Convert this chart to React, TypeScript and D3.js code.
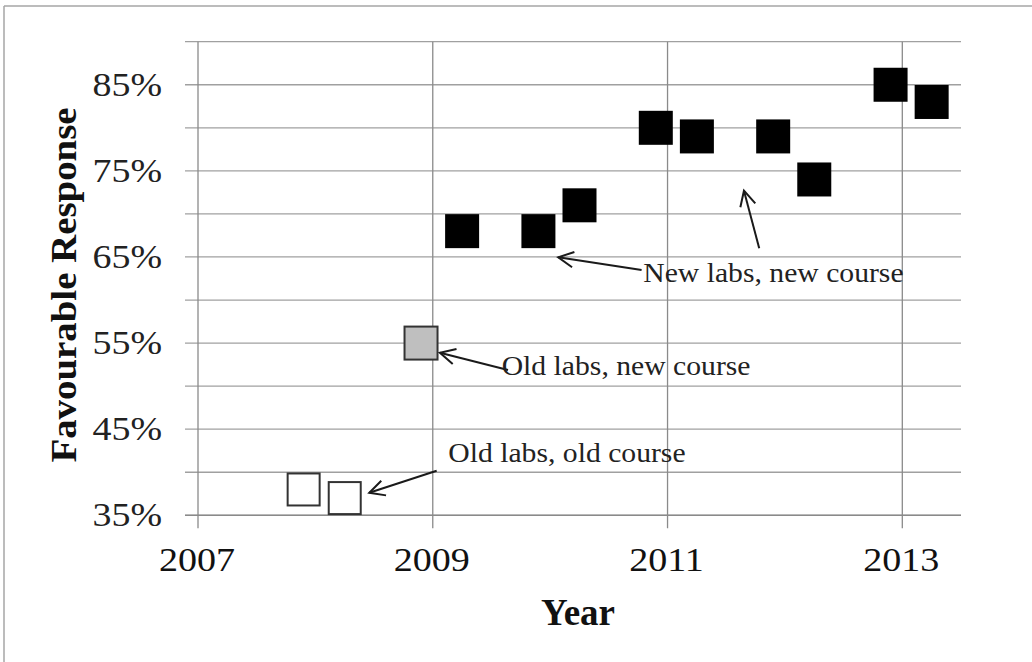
import React from "react";
import * as d3 from "d3";

// ---- data ----
const newLabsNewCourseX = [2009.25, 2009.9, 2010.25, 2010.9, 2011.25, 2011.9, 2012.25, 2012.9, 2013.25];
const newLabsNewCourseY = [68, 68, 71, 80, 79, 79, 74, 85, 83];
const oldLabsNewCourseX = [2008.9];
const oldLabsNewCourseY = [55];
const oldLabsOldCourseX = [2007.9, 2008.25];
const oldLabsOldCourseY = [38, 37];

const xDomain = [2007, 2013.5];
const yDomain = [35, 90];
const xTickValues = [2007, 2009, 2011, 2013];
const yGridValues = [35, 40, 45, 50, 55, 60, 65, 70, 75, 80, 85, 90];
const yLabelValues = [35, 45, 55, 65, 75, 85];

const annotationTexts = ["Old labs, old course", "Old labs, new course", "New labs, new course"];
const annotationX = [2009.132, 2009.587, 2010.793];
const annotationY = [41.22, 51.29, 62.13];

const arrowFromX = [2009.033, 2009.641, 2010.779, 2011.781];
const arrowFromY = [40.18, 51.87, 63.49, 66.0];
const arrowToX = [2008.459, 2009.061, 2010.069, 2011.651];
const arrowToY = [37.62, 53.88, 64.96, 72.7];

const W = 1032;
const H = 662;
const SERIF = "'Liberation Serif', 'Times New Roman', serif";
const SX = 1.12;

export default function App() {
  const x = d3.scaleLinear().domain(xDomain).range([198, 961]);
  const y = d3.scaleLinear().domain(yDomain).range([515.3, 41.7]);
  const left = x.range()[0];
  const right = x.range()[1];
  const top = y.range()[1];
  const bottom = y.range()[0];

  const newPts = d3.zip(newLabsNewCourseX, newLabsNewCourseY);
  const grayPts = d3.zip(oldLabsNewCourseX, oldLabsNewCourseY);
  const oldPts = d3.zip(oldLabsOldCourseX, oldLabsOldCourseY);

  const arrows = arrowFromX.map((_, i) => {
    const x1 = x(arrowFromX[i]);
    const y1 = y(arrowFromY[i]);
    const x2 = x(arrowToX[i]);
    const y2 = y(arrowToY[i]);
    const ang = Math.atan2(y1 - y2, x1 - x2);
    const L = 17;
    const phi = (27 * Math.PI) / 180;
    const a1 = [x2 + L * Math.cos(ang + phi), y2 + L * Math.sin(ang + phi)];
    const a2 = [x2 + L * Math.cos(ang - phi), y2 + L * Math.sin(ang - phi)];
    return { x1, y1, x2, y2, a1, a2 };
  });

  const fmtYear = (v: number) => String(Math.round(v));

  return (
    <svg
      width={W}
      height={H}
      style={{ position: "absolute", left: 0, top: 0, background: "#fff" }}
    >
      <rect x={0} y={0} width={W} height={H} fill="#fff" />
      {/* outer frame */}
      <line x1={4} y1={6} x2={W} y2={6} stroke="#a6a6a6" strokeWidth={1.5} />
      <line x1={4} y1={6} x2={4} y2={H} stroke="#a6a6a6" strokeWidth={1.5} />

      {/* horizontal gridlines + y ticks */}
      {yGridValues.map((v) => (
        <line
          key={"hg" + v}
          x1={left - 13}
          x2={right}
          y1={y(v)}
          y2={y(v)}
          stroke="#a0a0a0"
          strokeWidth={1.3}
        />
      ))}
      {/* vertical gridlines + x ticks */}
      {xTickValues.map((v) => (
        <line
          key={"vg" + v}
          x1={x(v)}
          x2={x(v)}
          y1={top}
          y2={bottom + 13}
          stroke="#8a8a8a"
          strokeWidth={1.3}
        />
      ))}
      {/* x axis line */}
      <line x1={left - 13} x2={right} y1={bottom} y2={bottom} stroke="#8a8a8a" strokeWidth={1.4} />

      {/* y tick labels */}
      {yLabelValues.map((v) => (
        <text
          key={"yl" + v}
          transform={`translate(162,${y(v) + 11}) scale(1.15,1)`}
          textAnchor="end"
          fontFamily={SERIF}
          fontSize={33}
          fill="#222"
        >
          {v + "%"}
        </text>
      ))}
      {/* x tick labels */}
      {xTickValues.map((v) => (
        <text
          key={"xl" + v}
          transform={`translate(${x(v) - 1},571) scale(${SX},1)`}
          textAnchor="middle"
          fontFamily={SERIF}
          fontSize={34}
          fill="#111"
        >
          {fmtYear(v)}
        </text>
      ))}

      {/* axis titles */}
      <text
        transform={`translate(76,285) rotate(-90) scale(1.08,1)`}
        textAnchor="middle"
        fontFamily={SERIF}
        fontWeight="bold"
        fontSize={36}
        fill="#111"
      >
        Favourable Response
      </text>
      <text
        x={578}
        y={625}
        textAnchor="middle"
        fontFamily={SERIF}
        fontWeight="bold"
        fontSize={37}
        fill="#111"
      >
        Year
      </text>

      {/* markers */}
      {oldPts.map(([a, b], i) => (
        <rect
          key={"o" + i}
          x={x(a) - 16}
          y={y(b) - 16}
          width={32}
          height={32}
          fill="#fff"
          stroke="#333"
          strokeWidth={2}
        />
      ))}
      {grayPts.map(([a, b], i) => (
        <rect
          key={"g" + i}
          x={x(a) - 16.5}
          y={y(b) - 16.5}
          width={33}
          height={33}
          fill="#bfbfbf"
          stroke="#333"
          strokeWidth={2}
        />
      ))}
      {newPts.map(([a, b], i) => (
        <rect
          key={"n" + i}
          x={x(a) - 17}
          y={y(b) - 17}
          width={34}
          height={34}
          fill="#000"
        />
      ))}

      {/* annotations */}
      {arrows.map((a, i) => (
        <g key={"ar" + i} stroke="#1a1a1a" strokeWidth={2} fill="none">
          <line x1={a.x1} y1={a.y1} x2={a.x2} y2={a.y2} />
          <polyline points={`${a.a1[0]},${a.a1[1]} ${a.x2},${a.y2} ${a.a2[0]},${a.a2[1]}`} />
        </g>
      ))}
      {annotationTexts.map((t, i) => (
        <text
          key={"at" + i}
          transform={`translate(${x(annotationX[i])},${y(annotationY[i])}) scale(${SX},1)`}
          fontFamily={SERIF}
          fontSize={26.5}
          fill="#222"
        >
          {t}
        </text>
      ))}
    </svg>
  );
}
